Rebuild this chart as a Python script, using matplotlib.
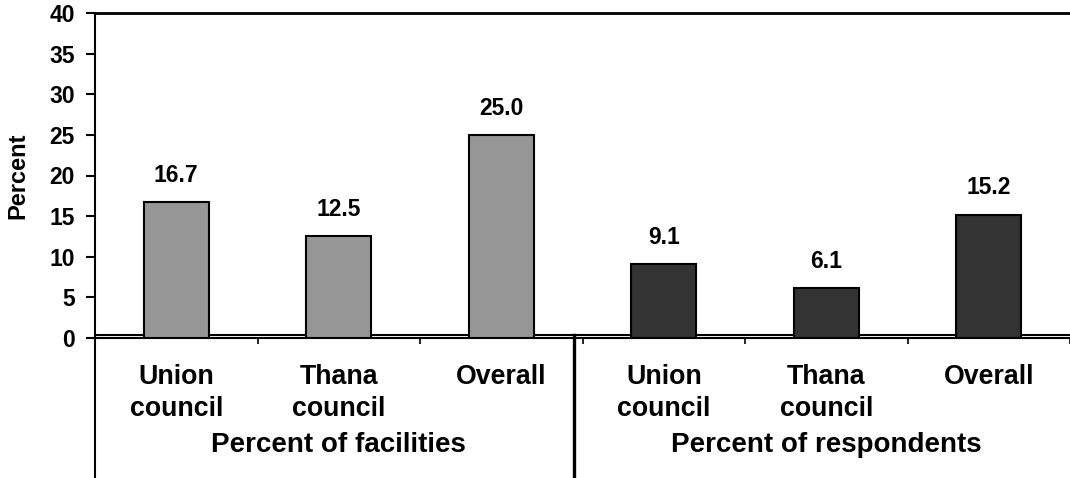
import matplotlib
matplotlib.use("Agg")
import matplotlib.pyplot as plt
import matplotlib.transforms as mtransforms
from matplotlib.lines import Line2D

# ---- data ----
categories = ["Union\ncouncil", "Thana\ncouncil", "Overall"]
groups = ["Percent of facilities", "Percent of respondents"]
facilities = [16.7, 12.5, 25.0]
respondents = [9.1, 6.1, 15.2]
yticks = [0, 5, 10, 15, 20, 25, 30, 35, 40]
ylabel = "Percent"

plt.rcParams["font.family"] = ["Liberation Sans", "DejaVu Sans"]
plt.rcParams["font.weight"] = "bold"

W, H = 1070, 478
fig = plt.figure(figsize=(W / 100, H / 100), dpi=100)
ax = fig.add_axes([95 / W, 1 - 338 / H, (1070 - 95) / W, (338 - 13) / H])

n = len(categories)
series = [(facilities, "#969696"), (respondents, "#333333")]
for g, (vals, col) in enumerate(series):
    xs = [g * n + i for i in range(n)]
    ax.bar(xs, vals, width=0.4, color=col, edgecolor="black", linewidth=1.5, zorder=3)
    for x, v in zip(xs, vals):
        ax.annotate(f"{v:.1f}", (x, v), xytext=(0, 14.4), textcoords="offset points",
                    ha="center", va="baseline", fontsize=16.5, fontweight="bold")

ax.set_xlim(-0.5, 2 * n - 0.5)
ax.set_ylim(0, 40)
ax.set_yticks(yticks)
ax.tick_params(axis="y", direction="out", length=6.5, width=1.5, pad=8, labelsize=16.5)
ax.set_xticks([])
ax.set_xticks([i - 0.5 for i in range(2 * n + 1)], minor=True)
ax.tick_params(axis="x", which="minor", direction="out", length=4.5, width=1.2)
ax.tick_params(axis="x", which="major", length=0)

for s in ["left", "bottom"]:
    ax.spines[s].set_linewidth(1.5)
ax.spines["top"].set_linewidth(2)
ax.spines["right"].set_visible(False)

# double baseline just above zero
ax.axhline(0.37, color="black", linewidth=1.5, zorder=2)

ax.set_ylabel(ylabel, fontsize=17, fontweight="bold")
ax.yaxis.set_label_coords(-66 / (1070 - 95), 0.5)

# multi-level category labels
bt = mtransforms.blended_transform_factory(ax.transData, fig.transFigure)
for g in range(2):
    for i, lab in enumerate(categories):
        fig.text(g * n + i, 1 - 364 / H, lab, transform=bt, ha="center", va="top",
                 fontsize=19.3, fontweight="bold", linespacing=1.31)
    fig.text(g * n + (n - 1) / 2, 1 - 452 / H, groups[g], transform=bt, ha="center",
             va="baseline", fontsize=20, fontweight="bold")

# left spine extension and group separator down to bottom
fig.add_artist(Line2D([95 / W, 95 / W], [0, 1 - 338 / H], color="black", linewidth=1.5,
                      transform=fig.transFigure))
sep_x = ax.transData.transform((n - 0.5, 0))[0] - 9
fig.add_artist(Line2D([sep_x / W, sep_x / W], [0, 1 - 335 / H], color="black", linewidth=2.4,
                      transform=fig.transFigure))

fig.savefig("out.png", dpi=100)
